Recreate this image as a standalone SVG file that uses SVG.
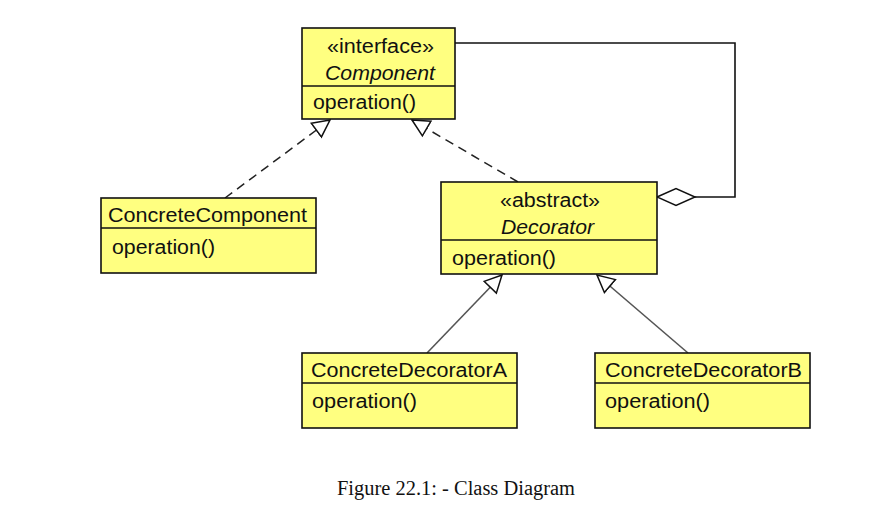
<svg xmlns="http://www.w3.org/2000/svg" width="884" height="523" viewBox="0 0 884 523">
<style>
.box{fill:#ffff80;stroke:#111;stroke-width:1.6}
.div{stroke:#111;stroke-width:1.4}
.t{font-family:"Liberation Sans",Arial,sans-serif;font-size:19.5px;fill:#111}
.i{font-style:italic}
.dash{fill:none;stroke:#222;stroke-width:1.5;stroke-dasharray:9 6}
.gen{fill:none;stroke:#555;stroke-width:1.6}
.agg{fill:none;stroke:#111;stroke-width:1.6}
.cap{font-family:"Liberation Serif","Times New Roman",serif;font-size:20px;fill:#111}
</style>
<defs>
<marker id="tri" viewBox="0 0 19 20" refX="18" refY="10" markerWidth="19" markerHeight="20" markerUnits="userSpaceOnUse" orient="auto">
<path d="M1,1.5 L18,10 L1,18.5 z" fill="#fff" stroke="#111" stroke-width="1.5"/>
</marker>
<marker id="dia" viewBox="0 0 41 20" refX="1" refY="10" markerWidth="41" markerHeight="20" markerUnits="userSpaceOnUse" orient="auto">
<path d="M1,10 L20,1.5 L39,10 L20,18.5 z" fill="#fff" stroke="#111" stroke-width="1.5"/>
</marker>
</defs>
<rect width="884" height="523" fill="#fff"/>
<g id="connectors">
<path class="dash" d="M225,198 L330,120" marker-end="url(#tri)"/>
<path class="dash" d="M518,182 L412,120" marker-end="url(#tri)"/>
<path class="gen" d="M427,353 L502,275" marker-end="url(#tri)"/>
<path class="gen" d="M688,353 L597,275" marker-end="url(#tri)"/>
<path class="agg" d="M657,197 L735,197 L735,43 L455,43" marker-start="url(#dia)"/>
</g>
<g id="Component">
<rect class="box" x="302" y="28" width="153" height="91"/>
<line class="div" x1="302" y1="86" x2="455" y2="86"/>
<text class="t" x="327" y="53" textLength="107" lengthAdjust="spacingAndGlyphs">«interface»</text>
<text class="t i" x="325" y="80" textLength="110" lengthAdjust="spacingAndGlyphs">Component</text>
<text class="t" x="313" y="109" textLength="103" lengthAdjust="spacingAndGlyphs">operation()</text>
</g>
<g id="ConcreteComponent">
<rect class="box" x="101" y="198" width="215" height="75"/>
<line class="div" x1="101" y1="228" x2="316" y2="228"/>
<text class="t" x="108" y="222" textLength="199" lengthAdjust="spacingAndGlyphs">ConcreteComponent</text>
<text class="t" x="112" y="254" textLength="103" lengthAdjust="spacingAndGlyphs">operation()</text>
</g>
<g id="Decorator">
<rect class="box" x="441" y="182" width="216" height="92"/>
<line class="div" x1="441" y1="240" x2="657" y2="240"/>
<text class="t" x="500" y="207" textLength="100" lengthAdjust="spacingAndGlyphs">«abstract»</text>
<text class="t i" x="501" y="234" textLength="93" lengthAdjust="spacingAndGlyphs">Decorator</text>
<text class="t" x="452" y="265" textLength="104" lengthAdjust="spacingAndGlyphs">operation()</text>
</g>
<g id="ConcreteDecoratorA">
<rect class="box" x="302" y="353" width="215" height="75"/>
<line class="div" x1="302" y1="383" x2="517" y2="383"/>
<text class="t" x="311" y="377" textLength="196" lengthAdjust="spacingAndGlyphs">ConcreteDecoratorA</text>
<text class="t" x="312" y="408" textLength="105" lengthAdjust="spacingAndGlyphs">operation()</text>
</g>
<g id="ConcreteDecoratorB">
<rect class="box" x="595" y="353" width="215" height="75"/>
<line class="div" x1="595" y1="383" x2="810" y2="383"/>
<text class="t" x="605" y="377" textLength="197" lengthAdjust="spacingAndGlyphs">ConcreteDecoratorB</text>
<text class="t" x="605" y="408" textLength="105" lengthAdjust="spacingAndGlyphs">operation()</text>
</g>
<text class="cap" x="337" y="495" textLength="238" lengthAdjust="spacingAndGlyphs">Figure 22.1: - Class Diagram</text>
</svg>
